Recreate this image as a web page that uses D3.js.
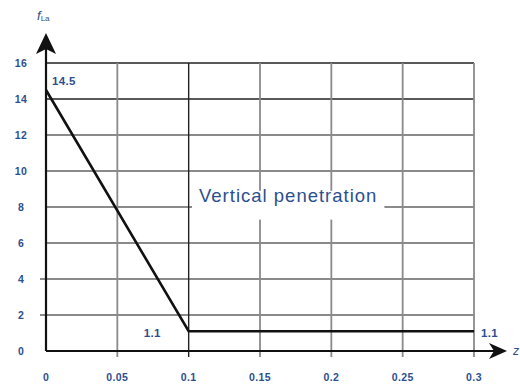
<!DOCTYPE html>
<html>
<head>
<meta charset="utf-8">
<script src="https://cdn.jsdelivr.net/npm/d3@7"></script>
<style>
  html, body { margin: 0; padding: 0; background: #fff; }
  svg { display: block; }
</style>
</head>
<body>
<svg id="chart" width="520" height="385"></svg>
<script>
// Penetration factor against relative depth z
const zValues = [0, 0.1, 0.3];
const fValues = [14.5, 1.1, 1.1];
const xTicks = [0, 0.05, 0.1, 0.15, 0.2, 0.25, 0.3];
const xTickLabels = ["0", "0.05", "0.1", "0.15", "0.2", "0.25", "0.3"];
const yTicks = [0, 2, 4, 6, 8, 10, 12, 14, 16];
const curveLabel = "Vertical penetration";

const svg = d3.select("#chart");
const textColor = "#2c4f8f";
const font = "'Liberation Sans', Arial, sans-serif";

const x = d3.scaleLinear().domain([0, 0.3]).range([46, 474]);
const y = d3.scaleLinear().domain([0, 16]).range([351, 63]);

const grid = svg.append("g").attr("stroke", "#8a8a8a").attr("stroke-width", 1.8).attr("fill", "none");

// horizontal grid lines
grid.selectAll("line.h").data(yTicks.filter(d => d > 0)).join("line")
  .attr("class", "h")
  .attr("x1", d => (d === 2 || d === 4) ? x(0) - 6 : x(0))
  .attr("x2", x(0.3))
  .attr("y1", d => y(d)).attr("y2", d => y(d))
  .attr("stroke", d => (d === 16 || d === 14) ? "#222" : null)
  .attr("stroke-width", d => (d === 16 || d === 14) ? 1.4 : null);

// vertical grid lines
grid.selectAll("line.v").data(xTicks.filter(d => d > 0)).join("line")
  .attr("class", "v")
  .attr("x1", d => x(d)).attr("x2", d => x(d))
  .attr("y1", y(16)).attr("y2", y(0) + 6)
  .attr("stroke", d => (d === 0.1) ? "#222" : null)
  .attr("stroke-width", d => (d === 0.1) ? 1.4 : null);

// label with a white backing that interrupts the grid
const lbl = svg.append("g");
const lblText = lbl.append("text")
  .attr("x", 199).attr("y", 202)
  .attr("font-family", font).attr("font-size", 18.5)
  .attr("letter-spacing", 1.0)
  .attr("fill", textColor)
  .text(curveLabel);
const bb = lblText.node().getBBox();
lbl.insert("rect", "text")
  .attr("x", bb.x - 7).attr("y", y(8.9))
  .attr("width", bb.width + 14).attr("height", y(7.3) - y(8.9))
  .attr("fill", "#fff");

// axes
const axes = svg.append("g").attr("stroke", "#111").attr("stroke-width", 2.2).attr("fill", "none");
axes.append("line").attr("x1", x(0)).attr("x2", x(0)).attr("y1", y(0)).attr("y2", 45);
axes.append("line").attr("x1", x(0)).attr("x2", 496).attr("y1", y(0)).attr("y2", y(0));

// arrow heads
const ax = x(0), ay = 33;
svg.append("path")
  .attr("d", `M${ax},${ay} L${ax + 10},${ay + 21} L${ax},${ay + 16} L${ax - 10},${ay + 21} Z`)
  .attr("fill", "#111");
const bx = 507, by = y(0);
svg.append("path")
  .attr("d", `M${bx},${by} L${bx - 18},${by - 8} L${bx - 13},${by} L${bx - 18},${by + 8} Z`)
  .attr("fill", "#111");

// the curve
const pts = zValues.map((z, i) => [z, fValues[i]]);
svg.append("path")
  .datum(pts)
  .attr("d", d3.line().x(d => x(d[0])).y(d => y(d[1])))
  .attr("fill", "none")
  .attr("stroke", "#111")
  .attr("stroke-width", 2.6)
  .attr("stroke-linejoin", "miter");

// tick labels
svg.append("g").selectAll("text").data(yTicks).join("text")
  .attr("x", 21).attr("y", d => y(d) + 4)
  .attr("text-anchor", "middle")
  .attr("font-family", font).attr("font-size", 10.5).attr("font-weight", "bold")
  .attr("letter-spacing", 0.4)
  .attr("fill", textColor)
  .text(d => d);

svg.append("g").selectAll("text").data(xTicks).join("text")
  .attr("x", d => x(d)).attr("y", 381)
  .attr("text-anchor", "middle")
  .attr("font-family", font).attr("font-size", 10.5).attr("font-weight", "bold")
  .attr("letter-spacing", 0.4)
  .attr("fill", textColor)
  .text((d, i) => xTickLabels[i]);

// value labels
const valLabel = (tx, ty, anchor, v) => svg.append("text")
  .attr("x", tx).attr("y", ty).attr("text-anchor", anchor)
  .attr("font-family", font).attr("font-size", 11.5).attr("font-weight", "bold")
  .attr("letter-spacing", 0.3)
  .attr("fill", textColor).text(v);
valLabel(x(zValues[0]) + 6, y(fValues[0]) - 5, "start", fValues[0]);
valLabel(x(zValues[1]) - 28, y(fValues[1]) + 6, "end", fValues[1]);
valLabel(x(zValues[2]) + 7, y(fValues[2]) + 6, "start", fValues[2]);

// axis titles
const yt = svg.append("text")
  .attr("x", 37).attr("y", 20)
  .attr("font-family", font).attr("fill", textColor);
yt.append("tspan").attr("font-size", 13).attr("font-style", "italic").text("f");
yt.append("tspan").attr("font-size", 8).attr("dy", 1).text("La");

svg.append("text")
  .attr("x", 513).attr("y", 355)
  .attr("font-family", font).attr("font-size", 12).attr("font-style", "italic")
  .attr("fill", textColor).text("z");
</script>
</body>
</html>
